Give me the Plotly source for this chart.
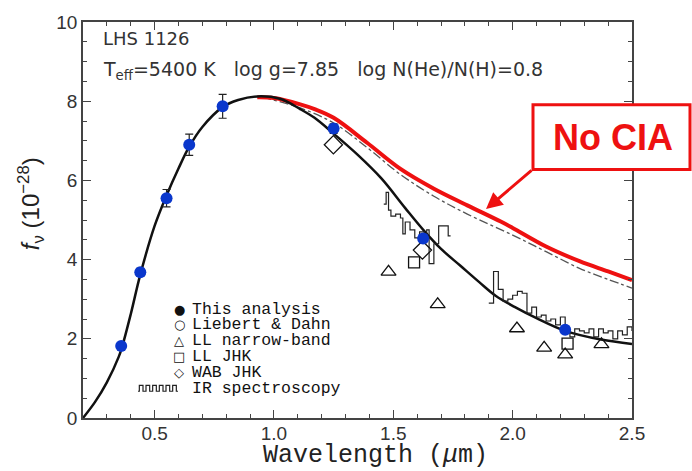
import plotly.graph_objects as go

# ---------------- data ----------------
# Photometry (this analysis): U B V R I J H K
phot_wl = [0.36, 0.44, 0.55, 0.645, 0.785, 1.25, 1.625, 2.22]
phot_f = [1.82, 3.68, 5.55, 6.90, 7.87, 7.31, 4.53, 2.23]
phot_err = [0.05, 0.10, 0.22, 0.27, 0.30, 0.12, 0.10, 0.08]

# LL narrow-band (triangles)
tri_wl = [1.48, 1.686, 2.018, 2.132, 2.22, 2.372]
tri_f = [3.69, 2.87, 2.26, 1.77, 1.60, 1.86]

# LL JHK (squares)
sq_wl = [1.587, 2.23]
sq_f = [3.93, 1.88]

# WAB JHK (diamonds)
dia_wl = [1.249, 1.622]
dia_f = [6.90, 4.24]

# IR spectroscopy, H band segment
irh_wl = [1.46, 1.47, 1.48, 1.49, 1.51, 1.53, 1.54, 1.55, 1.57, 1.59, 1.61, 1.63,
          1.64, 1.65, 1.67, 1.69, 1.71, 1.73, 1.74]
irh_f = [5.40, 5.70, 5.25, 5.10, 5.15, 5.05, 4.65, 4.95, 4.75, 4.55, 4.70, 4.60,
         4.75, 3.90, 4.40, 4.85, 4.85, 4.60, 4.60]

# IR spectroscopy, K band segment
irk_wl = [1.90, 1.92, 1.94, 1.96, 1.98, 2.00, 2.02, 2.04, 2.06, 2.08, 2.10, 2.12,
          2.14, 2.16, 2.18, 2.20, 2.22, 2.24, 2.26, 2.28, 2.30, 2.32, 2.34, 2.36,
          2.38, 2.40, 2.42, 2.44, 2.46, 2.48, 2.50]
irk_f = [2.90, 3.70, 3.25, 2.95, 3.00, 3.10, 3.20, 3.15, 2.65, 2.80, 2.55, 2.60,
         2.45, 2.50, 2.35, 2.55, 2.20, 2.05, 2.25, 2.20, 2.15, 2.25, 2.05, 2.25,
         2.15, 2.20, 2.00, 2.20, 2.10, 2.30, 2.20]

# Model with CIA (black solid)
mod_wl = [0.20, 0.25, 0.30, 0.35, 0.365, 0.40, 0.44, 0.50, 0.55, 0.60, 0.645,
          0.70, 0.785, 0.85, 0.93, 1.025, 1.11, 1.17, 1.25, 1.35, 1.45, 1.55, 1.63,
          1.70, 1.78, 1.86, 1.93, 2.01, 2.10, 2.22, 2.37, 2.50]
mod_f = [0.00, 0.40, 0.90, 1.55, 1.82, 2.62, 3.62, 4.85, 5.62, 6.30, 6.85,
         7.35, 7.85, 8.03, 8.12, 8.06, 7.80, 7.58, 7.18, 6.65, 6.05, 5.30, 4.72,
         4.27, 3.85, 3.43, 3.08, 2.80, 2.52, 2.20, 1.98, 1.87]

# Alternative model (dash-dot)
alt_wl = [0.95, 1.10, 1.25, 1.39, 1.53, 1.67, 1.81, 2.00, 2.14, 2.28, 2.40, 2.50]
alt_f = [8.10, 7.85, 7.45, 6.83, 6.15, 5.60, 5.15, 4.62, 4.20, 3.78, 3.50, 3.28]

# Model without CIA (red)
nocia_wl = [0.93, 1.00, 1.11, 1.17, 1.25, 1.39, 1.53, 1.67, 1.81, 1.95, 2.00, 2.14,
            2.28, 2.40, 2.50]
nocia_f = [8.10, 8.08, 7.92, 7.80, 7.58, 6.95, 6.29, 5.79, 5.37, 4.96, 4.80, 4.33,
           3.96, 3.70, 3.48]

x_ticks = [0.5, 1.0, 1.5, 2.0, 2.5]
y_ticks = [0, 2, 4, 6, 8, 10]

legend_labels = ["This analysis", "Liebert & Dahn", "LL narrow-band",
                 "LL JHK", "WAB JHK", "IR spectroscopy"]
legend_syms = ["\u25cf", "\u25cb", "\u25b3", "\u25a1", "\u25c7", ""]

# ---------------- figure ----------------
W, H = 692, 471
L, R, T, B = 83, 60, 18, 53
pw, ph = W - L - R, H - T - B


def px(xp):
    return (xp - L) / pw


def py(yp):
    return (H - B - yp) / ph


fig = go.Figure()

fig.add_trace(go.Scatter(x=alt_wl, y=alt_f, mode="lines",
                         line=dict(color="#555555", width=1.3, dash="dashdot", shape="spline"),
                         hoverinfo="skip"))
fig.add_trace(go.Scatter(x=nocia_wl, y=nocia_f, mode="lines",
                         line=dict(color="#ee1111", width=4, shape="spline"),
                         hoverinfo="skip"))
fig.add_trace(go.Scatter(x=mod_wl, y=mod_f, mode="lines",
                         line=dict(color="#111111", width=2.5, shape="spline"),
                         hoverinfo="skip"))
for xs, ys in ((irh_wl, irh_f), (irk_wl, irk_f)):
    fig.add_trace(go.Scatter(x=xs, y=ys, mode="lines",
                             line=dict(color="#222222", width=1.2, shape="hv")))
fig.add_trace(go.Scatter(x=tri_wl, y=tri_f, mode="markers",
                         marker=dict(symbol="triangle-up-open", size=13,
                                     color="#111111", line=dict(width=1.3))))
fig.add_trace(go.Scatter(x=sq_wl, y=sq_f, mode="markers",
                         marker=dict(symbol="square-open", size=11,
                                     color="#111111", line=dict(width=1.3))))
fig.add_trace(go.Scatter(x=dia_wl, y=dia_f, mode="markers",
                         marker=dict(symbol="diamond-open", size=14,
                                     color="#111111", line=dict(width=1.3))))
fig.add_trace(go.Scatter(x=phot_wl, y=phot_f, mode="markers",
                         error_y=dict(type="data", array=phot_err, color="#222222",
                                      thickness=1.2, width=4),
                         marker=dict(symbol="circle", size=12, color="#0a37cc")))

annotations = []
shapes = []

# header text
nb = "&nbsp;" * 3
annotations.append(dict(x=px(101), y=py(35), xref="paper", yref="paper",
                        text="LHS 1126", showarrow=False, xanchor="left", yanchor="middle",
                        font=dict(family="DejaVu Sans", size=18, color="#333333")))
annotations.append(dict(x=px(101), y=py(67), xref="paper", yref="paper",
                        text=f"T<sub>eff</sub>=5400 K{nb}log g=7.85{nb}log N(He)/N(H)=0.8",
                        showarrow=False, xanchor="left", yanchor="middle",
                        font=dict(family="DejaVu Sans", size=19, color="#333333")))

# manual legend
row_y = [308, 323.5, 340, 356, 372, 388.5]
for lab, sym, yy in zip(legend_labels, legend_syms, row_y):
    annotations.append(dict(x=px(190), y=py(yy), xref="paper", yref="paper",
                            text=lab, showarrow=False, xanchor="left", yanchor="middle",
                            font=dict(family="Liberation Mono", size=16.5, color="#111111")))
    if sym:
        annotations.append(dict(x=px(179), y=py(yy), xref="paper", yref="paper",
                                text=sym, showarrow=False, xanchor="center", yanchor="middle",
                                font=dict(family="DejaVu Sans", size=13, color="#111111")))
# square wave symbol for spectroscopy
x0w, x1w, ylo, yhi = 138, 178, 391, 385
nper = 6
step = (x1w - x0w) / nper
path = f"M {px(x0w)},{py(ylo)}"
for i in range(nper):
    xa = x0w + i * step + step * 0.2
    xb = x0w + i * step + step * 0.75
    xc = x0w + (i + 1) * step
    path += f" L {px(xa)},{py(ylo)} L {px(xa)},{py(yhi)} L {px(xb)},{py(yhi)} L {px(xb)},{py(ylo)} L {px(xc)},{py(ylo)}"
shapes.append(dict(type="path", xref="paper", yref="paper", path=path,
                   line=dict(color="#222222", width=1.2)))

# axis titles
annotations.append(dict(x=px(31), y=py(202), xref="paper", yref="paper",
                        text="<i>f</i><sub>\u03bd</sub> (10<sup>\u221228</sup>)",
                        showarrow=False, textangle=-90, xanchor="center", yanchor="middle",
                        font=dict(family="Liberation Sans", size=24, color="#222222")))
annotations.append(dict(x=px(375), y=py(456), xref="paper", yref="paper",
                        text="Wavelength (<i>\u03bc</i>m)", showarrow=False,
                        xanchor="center", yanchor="middle",
                        font=dict(family="Liberation Mono", size=25, color="#222222")))

# "No CIA" callout
shapes.append(dict(type="rect", xref="paper", yref="paper",
                   x0=px(533), x1=px(690), y0=py(167), y1=py(101.5),
                   fillcolor="white", line=dict(color="#ee1111", width=3), layer="above"))
annotations.append(dict(x=px(613), y=py(135), xref="paper", yref="paper",
                        text="<b>No CIA</b>", showarrow=False, xanchor="center", yanchor="middle",
                        font=dict(family="Liberation Sans", size=36, color="#ee1111")))
annotations.append(dict(x=px(486), y=py(207), xref="paper", yref="paper",
                        ax=47, ay=-40, text="", showarrow=True, arrowhead=2,
                        arrowsize=1.1, arrowwidth=3, arrowcolor="#ee1111"))

axis_common = dict(showgrid=False, zeroline=False, showline=True, linecolor="#444444",
                   linewidth=1.5, mirror="ticks", ticks="inside", tickcolor="#444444",
                   tickwidth=1.2,
                   tickfont=dict(family="Liberation Sans", size=19, color="#333333"))

fig.update_layout(
    width=W, height=H,
    margin=dict(l=L, r=R, t=T, b=B),
    paper_bgcolor="white", plot_bgcolor="white",
    showlegend=False,
    xaxis=dict(range=[0.2, 2.5], tickvals=x_ticks, ticktext=[f"{v:.1f}" for v in x_ticks],
               ticklen=8, ticklabelstandoff=-3,
               minor=dict(dtick=0.1, tick0=0, ticks="inside", ticklen=4,
                          tickcolor="#444444"),
               **axis_common),
    yaxis=dict(range=[0, 10], tickvals=y_ticks, ticktext=[str(v) for v in y_ticks],
               ticklen=8, minor=dict(dtick=0.5, tick0=0, ticks="inside", ticklen=4,
                                     tickcolor="#444444"),
               **axis_common),
    annotations=annotations,
    shapes=shapes,
)

fig.write_html("out.html")
